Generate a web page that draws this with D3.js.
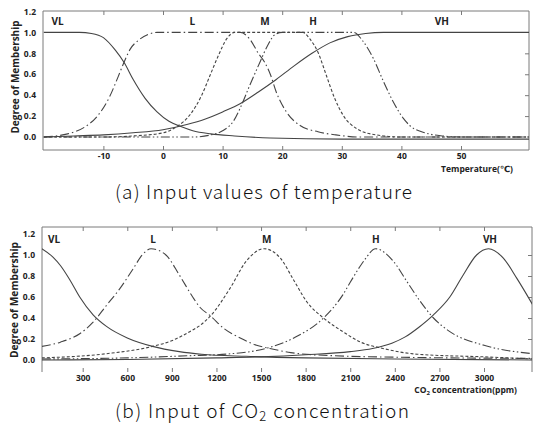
<!DOCTYPE html>
<html>
<head>
<meta charset="utf-8">
<title>Membership functions</title>
<style>
  body { margin: 0; background: #fff; }
  svg text { font-family: "Open Sans", "DejaVu Sans", sans-serif; }
</style>
</head>
<body>
<main></main>
<script src="https://cdn.jsdelivr.net/npm/d3@7/dist/d3.min.js"></script>
<script>
// ---- data ----
var setNames = ["VL", "L", "M", "H", "VH"];
var degreeTicks = [0, 0.2, 0.4, 0.6, 0.8, 1.0, 1.2];

// (a) temperature, [degC, membership]
var tempTicks = [-10, 0, 10, 20, 30, 40, 50];
var tempLabelX = [-17.7, 4.9, 17.1, 25.2, 46.8];
var tempVL = [[-20,1.0],[-14,1.0],[-12,0.99],[-10,0.95],[-8,0.83],[-6.5,0.71],[-5,0.55],[-3,0.37],[-1,0.24],[1,0.15],[3,0.10],[5,0.06],[8,0.03],[12,0.01],[18,-0.01],[30,-0.02],[62,-0.02]];
var tempL = [[-20,0.0],[-16,0.03],[-13,0.1],[-11,0.2],[-9,0.38],[-7.5,0.58],[-6.5,0.72],[-5.5,0.84],[-4,0.93],[-2.5,0.98],[-1,1.0],[13,1.0],[14.5,0.94],[16,0.8],[17,0.72],[18,0.6],[19,0.43],[20.7,0.24],[23,0.11],[26,0.05],[29,0.02],[33,0.0],[62,0.0]];
var tempM = [[-20,0.0],[-10,0.0],[-5,0.01],[0,0.04],[2.3,0.10],[4.5,0.21],[6.5,0.40],[7.9,0.59],[9.3,0.78],[10.7,0.94],[12,1.0],[23.5,1.0],[24.6,0.94],[26,0.81],[27.4,0.59],[28.8,0.37],[30.2,0.21],[32.5,0.08],[35.8,0.02],[40,0.0],[62,0.0]];
var tempH = [[-20,0.0],[5,0.0],[8,0.02],[10,0.06],[11.8,0.15],[12.9,0.27],[14.6,0.5],[16.3,0.72],[17.6,0.88],[18.8,0.98],[20,1.0],[32,1.0],[33.5,0.92],[35.3,0.75],[37,0.53],[38.6,0.34],[40.3,0.18],[41.4,0.11],[44,0.04],[47,0.01],[50,0.0],[62,0.0]];
var tempVH = [[-20,0.0],[-15,0.01],[-10,0.02],[-5,0.04],[0,0.07],[4,0.12],[7,0.17],[10,0.24],[13,0.32],[16,0.43],[19,0.55],[22,0.68],[25,0.8],[28,0.9],[31,0.96],[34,0.99],[37,1.0],[62,1.0]];

// (b) CO2, [ppm, membership]
var co2Ticks = [300, 600, 900, 1200, 1500, 1800, 2100, 2400, 2700, 3000];
var co2LabelX = [107, 773, 1538, 2273, 3040];
var co2VL = [[25,1.06],[100,0.98],[150,0.90],[215,0.76],[280,0.60],[370,0.43],[460,0.32],[600,0.21],[770,0.13],[950,0.08],[1100,0.055],[1400,0.035],[1800,0.02],[2400,0.01],[3330,0.0]];
var co2L = [[25,0.13],[150,0.17],[280,0.25],[370,0.36],[460,0.52],[550,0.68],[640,0.87],[700,1.0],[760,1.06],[860,1.0],[950,0.81],[1040,0.6],[1090,0.5],[1160,0.42],[1250,0.3],[1360,0.21],[1470,0.14],[1560,0.11],[1700,0.07],[2000,0.04],[2500,0.025],[3330,0.015]];
var co2M = [[25,0.02],[460,0.06],[770,0.13],[910,0.19],[1020,0.27],[1090,0.33],[1160,0.42],[1290,0.68],[1400,0.94],[1520,1.06],[1630,0.97],[1720,0.76],[1810,0.55],[1920,0.4],[2050,0.27],[2170,0.17],[2320,0.11],[2550,0.055],[3000,0.03],[3330,0.01]];
var co2H = [[25,0.01],[600,0.02],[1000,0.04],[1300,0.06],[1470,0.09],[1720,0.21],[1920,0.40],[2050,0.62],[2100,0.74],[2170,0.9],[2200,0.96],[2270,1.06],[2390,0.94],[2480,0.75],[2570,0.56],[2660,0.40],[2770,0.27],[3000,0.14],[3330,0.06]];
var co2VH = [[25,0.0],[600,0.005],[1200,0.02],[1500,0.03],[1800,0.05],[2100,0.08],[2250,0.11],[2380,0.16],[2470,0.22],[2560,0.31],[2660,0.43],[2770,0.6],[2860,0.81],[2950,1.0],[3030,1.06],[3130,0.97],[3220,0.78],[3330,0.52]];

// line style per set
var dashes = ["none", "9,3,1.5,3", "3,2", "9,2.5,1.5,2.5,1.5,2.5", "none"];

var width = 533, height = 429;
var svg = d3.select("main").append("svg")
    .attr("width", width)
    .attr("height", height);

var lineColor = "#444", frameColor = "#7a7a7a", textColor = "#222";

function drawPanel(p) {
    var g = svg.append("g");
    var x = p.x, y = p.y;

    g.append("clipPath").attr("id", p.id)
        .append("rect")
        .attr("x", p.left).attr("y", p.top)
        .attr("width", p.right - p.left).attr("height", p.bottom - p.top);

    // frame
    g.append("line").attr("x1", p.left).attr("x2", p.left).attr("y1", p.top).attr("y2", p.bottom)
        .attr("stroke", frameColor);
    g.append("line").attr("x1", p.left).attr("x2", p.right).attr("y1", p.top).attr("y2", p.top)
        .attr("stroke", frameColor);
    g.append("line").attr("x1", p.right).attr("x2", p.right).attr("y1", p.top).attr("y2", p.bottom)
        .attr("stroke", frameColor);
    if (p.bottomLine) {
        g.append("line").attr("x1", p.left).attr("x2", p.right).attr("y1", p.bottom).attr("y2", p.bottom)
            .attr("stroke", frameColor);
    }

    // bottom axis: ticks pointing up, labels below
    var ax = g.append("g").attr("transform", "translate(0," + p.bottom + ")")
        .call(d3.axisBottom(x).tickValues(p.xTicks).tickSizeInner(-4).tickSizeOuter(0).tickPadding(3)
            .tickFormat(function (d) { return String(d); }));
    // top ticks
    var at = g.append("g").attr("transform", "translate(0," + p.top + ")")
        .call(d3.axisTop(x).tickValues(p.xTicks).tickSizeInner(-4).tickSizeOuter(0).tickFormat(""));
    // right ticks
    var ar = g.append("g").attr("transform", "translate(" + p.right + ",0)")
        .call(d3.axisRight(y).tickValues(p.rightTicks).tickSizeInner(-4).tickSizeOuter(0).tickFormat(""));
    // left labels
    var al = g.append("g").attr("transform", "translate(" + p.left + ",0)")
        .call(d3.axisLeft(y).tickValues(degreeTicks).tickSize(0).tickPadding(7).tickFormat(d3.format(".1f")));

    [ax, at, ar, al].forEach(function (a) {
        a.select(".domain").remove();
        a.selectAll("line").attr("stroke", frameColor);
        a.selectAll("text").attr("fill", textColor).attr("font-size", "8.5px").attr("font-weight", "bold")
            .style("font-family", "'Open Sans', sans-serif");
    });

    // curves
    var line = d3.line()
        .x(function (d) { return x(d[0]); })
        .y(function (d) { return y(d[1]); })
        .curve(d3.curveMonotoneX);

    g.append("g").attr("clip-path", "url(#" + p.id + ")")
        .selectAll("path")
        .data(p.series)
        .enter()
        .append("path")
        .attr("d", line)
        .attr("fill", "none")
        .attr("stroke", lineColor)
        .attr("stroke-width", 1.1)
        .attr("stroke-dasharray", function (d, i) { return dashes[i]; });

    // set names
    g.selectAll("text.set")
        .data(setNames)
        .enter()
        .append("text")
        .attr("class", "set")
        .attr("x", function (d, i) { return x(p.labelX[i]); })
        .attr("y", y(p.labelY))
        .attr("dy", "0.35em")
        .attr("text-anchor", "middle")
        .attr("font-size", "10px")
        .attr("font-weight", "bold")
        .attr("fill", "#222")
        .text(function (d) { return d; });

    // y title
    g.append("text")
        .attr("transform", "translate(" + p.yTitleX + "," + p.yTitleY + ") rotate(-90)")
        .attr("text-anchor", "middle")
        .attr("dy", "0.35em")
        .attr("font-size", "10px")
        .attr("font-weight", "bold")
        .attr("fill", "#222")
        .attr("textLength", p.yTitleLen)
        .attr("lengthAdjust", "spacingAndGlyphs")
        .text("Degree of Membership");
    return g;
}

// (a)
var xA = d3.scaleLinear().domain([0, 50]).range([163, 461]);
var yA = d3.scaleLinear().domain([0, 1.2]).range([137, 11.5]);
var gA = drawPanel({
    id: "clipA", x: xA, y: yA,
    left: 43, right: 529, top: 11, bottom: 150, bottomLine: true,
    xTicks: tempTicks, rightTicks: [0.2, 0.4, 0.6, 0.8],
    series: [tempVL, tempL, tempM, tempH, tempVH],
    labelX: tempLabelX, labelY: 1.1,
    yTitleX: 15, yTitleY: 77, yTitleLen: 113
});
gA.append("text")
    .attr("x", 513).attr("y", 172)
    .attr("text-anchor", "end")
    .attr("font-size", "8.5px").attr("font-weight", "bold").attr("fill", "#222")
    .text("Temperature(\u2103)");

// (b)
var xB = d3.scaleLinear().domain([0, 3300]).range([38.1, 528.6]);
var yB = d3.scaleLinear().domain([0, 1.2]).range([360, 234]);
var gB = drawPanel({
    id: "clipB", x: xB, y: yB,
    left: 42, right: 532, top: 227, bottom: 372, bottomLine: false,
    xTicks: co2Ticks, rightTicks: [0.2, 0.4, 0.6, 0.8, 1.0],
    series: [co2VL, co2L, co2M, co2H, co2VH],
    labelX: co2LabelX, labelY: 1.147,
    yTitleX: 14, yTitleY: 300, yTitleLen: 116
});
var co2Title = gB.append("text")
    .attr("x", 517).attr("y", 393)
    .attr("text-anchor", "end")
    .attr("font-size", "8.5px").attr("font-weight", "bold").attr("fill", "#222");
co2Title.append("tspan").text("CO");
co2Title.append("tspan").attr("font-size", "6px").attr("dy", "2").text("2");
co2Title.append("tspan").attr("dy", "-2").text(" concentration(ppm)");

// captions
var capFont = "'Noto Sans CJK KR', 'Noto Sans', sans-serif";
svg.append("text")
    .attr("x", 115).attr("y", 199)
    .attr("font-size", "19px").attr("font-weight", 300).attr("fill", "#111")
    .attr("textLength", 297).attr("lengthAdjust", "spacing")
    .style("font-family", capFont)
    .text("(a) Input values of temperature");

var capB = svg.append("text")
    .attr("x", 115).attr("y", 418)
    .attr("font-size", "19px").attr("font-weight", 300).attr("fill", "#111")
    .attr("textLength", 294).attr("lengthAdjust", "spacing")
    .style("font-family", capFont);
capB.append("tspan").text("(b) Input of CO");
capB.append("tspan").attr("font-size", "13px").attr("dy", "3").text("2");
capB.append("tspan").attr("dy", "-3").text(" concentration");
</script>
</body>
</html>
